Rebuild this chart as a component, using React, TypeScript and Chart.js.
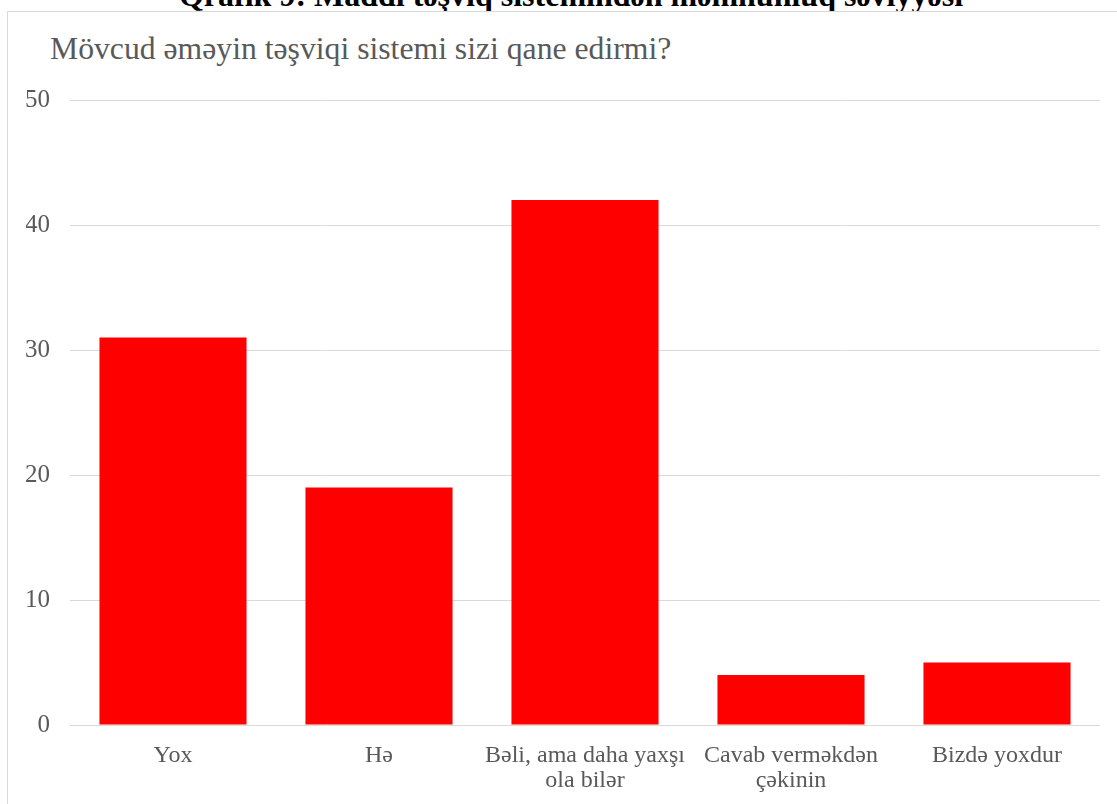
import React, { useEffect, useRef } from "react";
import { Chart, registerables } from "chart.js";

Chart.register(...registerables);

const categories: (string | string[])[] = [
  "Yox",
  "Hə",
  ["Bəli, ama daha yaxşı", "ola bilər"],
  ["Cavab verməkdən", "çəkinin"],
  "Bizdə yoxdur",
];
const responses: number[] = [31, 19, 42, 4, 5];
const yTickValues: number[] = [0, 10, 20, 30, 40, 50];
const captionText = "Qrafik 9: Maddi təşviq sistemindən məmnunluq səviyyəsi";
const chartTitle = "Mövcud əməyin təşviqi sistemi sizi qane edirmi?";

const SERIF = '"Liberation Serif", "Times New Roman", serif';
const GRAY_TEXT = "#595959";
const GRID = "#d9d9d9";

export default function App() {
  const canvasRef = useRef<HTMLCanvasElement | null>(null);

  useEffect(() => {
    if (!canvasRef.current) return;
    const chart = new Chart(canvasRef.current, {
      type: "bar",
      data: {
        labels: categories,
        datasets: [
          {
            label: "Cavablar",
            data: responses,
            backgroundColor: "#ff0000",
            borderWidth: 0,
            categoryPercentage: 1,
            barPercentage: 0.714,
          },
        ],
      },
      options: {
        responsive: false,
        animation: false,
        layout: { padding: { top: 88, left: 18, right: 17, bottom: 0 } },
        plugins: {
          legend: { display: false },
          tooltip: { enabled: false },
          title: { display: false },
        },
        scales: {
          x: {
            grid: { display: false },
            border: { display: false },
            ticks: {
              color: GRAY_TEXT,
              padding: 10,
              maxRotation: 0,
              autoSkip: false,
              font: { family: SERIF, size: 24, lineHeight: 1.04 },
            },
          },
          y: {
            min: 0,
            max: 50,
            afterBuildTicks: (scale: any) => {
              scale.ticks = yTickValues.map((v) => ({ value: v }));
            },
            afterFit: (scale: any) => {
              scale.width = 44;
            },
            grid: { color: GRID, lineWidth: 1, drawTicks: false },
            border: { display: false },
            ticks: {
              color: GRAY_TEXT,
              padding: 20,
              font: { family: SERIF, size: 25 },
            },
          },
        },
      },
    });
    return () => chart.destroy();
  }, []);

  return (
    <div
      style={{
        position: "fixed",
        left: 0,
        top: 0,
        width: 1117,
        height: 804,
        overflow: "hidden",
        background: "#fff",
      }}
    >
      <div
        style={{
          position: "absolute",
          left: 0,
          top: -21,
          width: 1142,
          textAlign: "center",
          fontFamily: SERIF,
          fontWeight: "bold",
          fontSize: 32,
          lineHeight: 1,
          color: "#000",
          whiteSpace: "nowrap",
        }}
      >
        {captionText}
      </div>
      <div
        style={{
          position: "absolute",
          left: 7,
          top: 11,
          width: 1200,
          height: 900,
          border: `1px solid ${GRID}`,
          boxSizing: "border-box",
          background: "#fff",
        }}
      />
      <div
        style={{
          position: "absolute",
          left: 50,
          top: 33,
          fontFamily: SERIF,
          fontSize: 31.7,
          lineHeight: 1,
          color: GRAY_TEXT,
          whiteSpace: "nowrap",
        }}
      >
        {chartTitle}
      </div>
      <canvas
        ref={canvasRef}
        width={1109}
        height={791}
        style={{ position: "absolute", left: 8, top: 12, width: 1109, height: 791 }}
      />
    </div>
  );
}
